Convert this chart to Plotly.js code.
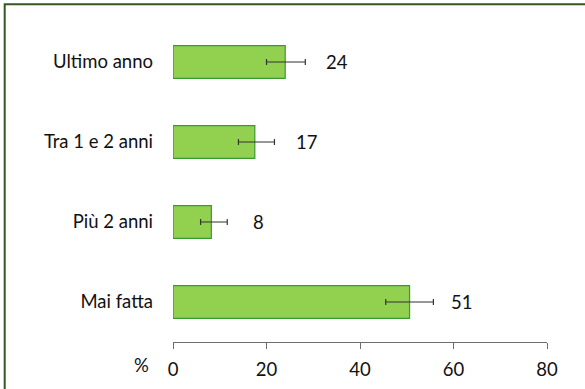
<!DOCTYPE html>
<html>
<head>
<meta charset="utf-8">
<script src="https://cdn.plot.ly/plotly-3.0.1.min.js"></script>
<style>
  html, body { margin: 0; padding: 0; background: #ffffff; }
  #chart { width: 585px; height: 389px; }
</style>
</head>
<body>
<div id="chart"></div>
<script>
// Data (bottom to top in the chart)
var categories = ["Mai fatta", "Più 2 anni", "Tra 1 e 2 anni", "Ultimo anno"];
var values = [50.6, 8.2, 17.5, 24.0];
var valueLabels = ["51", "8", "17", "24"];
var errPlus = [5.1, 3.4, 4.2, 4.3];
var errMinus = [5.1, 2.3, 3.5, 4.0];
var xTicks = [0, 20, 40, 60, 80];

var FONT = "Lato, 'Noto Sans', sans-serif";
var TXT = "#111111";
var FS = 18.5;

var trace = {
  type: "bar",
  orientation: "h",
  y: categories,
  x: values,
  width: 0.41,
  marker: { color: "#92d050", line: { color: "#3a9a30", width: 1.2 } },
  error_x: {
    type: "data",
    symmetric: false,
    array: errPlus,
    arrayminus: errMinus,
    color: "#333333",
    thickness: 1.2,
    width: 3
  },
  hoverinfo: "none"
};

var annotations = categories.map(function (c, i) {
  return {
    x: values[i] + 8.4,
    y: c,
    xref: "x",
    yref: "y",
    text: valueLabels[i],
    showarrow: false,
    xanchor: "left",
    yanchor: "middle",
    font: { family: FONT, size: FS, color: TXT }
  };
});
annotations.push({
  x: -0.085,
  y: -0.071,
  xref: "paper",
  yref: "paper",
  text: "%",
  showarrow: false,
  xanchor: "center",
  yanchor: "middle",
  font: { family: FONT, size: FS, color: TXT }
});

var layout = {
  width: 585,
  height: 389,
  margin: { l: 173, r: 38, t: 22, b: 47, pad: 0 },
  paper_bgcolor: "#ffffff",
  plot_bgcolor: "#ffffff",
  showlegend: false,
  font: { family: FONT, size: FS, color: TXT },
  xaxis: {
    range: [0, 80],
    tickvals: xTicks,
    ticktext: xTicks.map(String),
    showgrid: false,
    zeroline: false,
    showline: true,
    linecolor: "#6e6e6e",
    linewidth: 1,
    ticks: "outside",
    ticklen: 6,
    tickcolor: "#6e6e6e",
    ticklabelstandoff: 5,
    tickfont: { family: FONT, size: FS, color: TXT },
    fixedrange: true
  },
  yaxis: {
    type: "category",
    categoryorder: "array",
    categoryarray: categories,
    range: [-0.5, 3.5],
    showgrid: false,
    zeroline: false,
    showline: false,
    ticks: "",
    ticklabelstandoff: 19,
    tickfont: { family: FONT, size: FS, color: TXT },
    fixedrange: true
  },
  shapes: [{
    type: "rect",
    xref: "paper",
    yref: "paper",
    x0: -0.450,
    x1: 1.2,
    y0: -0.2,
    y1: 1.0555,
    line: { color: "#375623", width: 2 },
    fillcolor: "rgba(0,0,0,0)",
    layer: "below"
  }],
  annotations: annotations
};

Plotly.newPlot("chart", [trace], layout, { displayModeBar: false, staticPlot: true });
</script>
</body>
</html>
